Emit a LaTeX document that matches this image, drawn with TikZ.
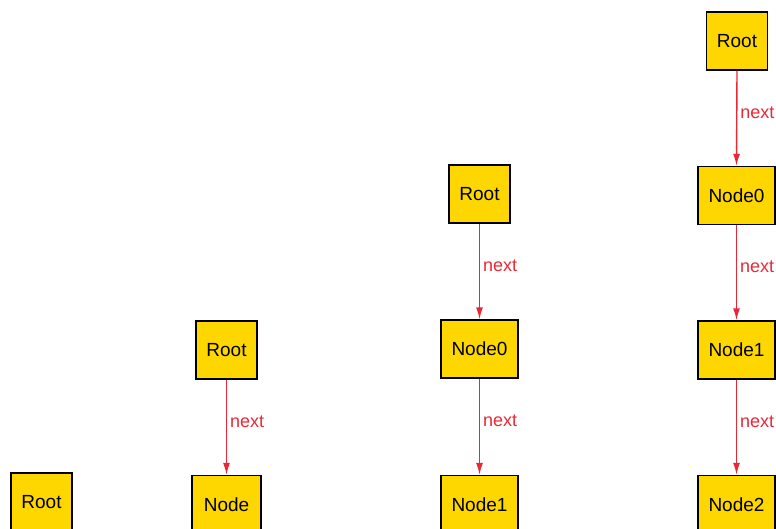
\documentclass[tikz,border=0pt]{standalone}
\usepackage{fontspec}
\setmainfont{Liberation Sans}
\usetikzlibrary{arrows.meta}
\definecolor{boxfill}{RGB}{255,215,0}
\definecolor{edgered}{RGB}{232,40,52}
\tikzset{
  listbox/.style={draw=black, line width=1.4pt, fill=boxfill, inner sep=0pt,
    minimum height=58pt, font=\fontsize{19}{21}\selectfont, text=black},
  rootbox/.style={listbox, minimum width=61pt},
  nodebox/.style={listbox, minimum width=69pt},
  numbox/.style={listbox, minimum width=77pt},
  nextedge/.style={draw=edgered, line width=1.4pt, -{Latex[length=12pt,width=7pt]}},
  nextlabel/.style={text=edgered, font=\fontsize{18}{20}\selectfont, inner sep=0pt, anchor=base west, xshift=3pt}
}
\begin{document}
\begin{tikzpicture}[x=1pt,y=1pt]
\useasboundingbox (0,0) rectangle (776,528);
\clip (0,0) rectangle (776,528);
% group 1
\node[rootbox] (r1) at (41.5,26) {Root};
% group 2
\node[rootbox] (r2) at (226.5,178) {Root};
\node[nodebox] (n2) at (226.5,23.5) {Node};
\draw[nextedge] (r2.south) -- node[nextlabel]{next} (n2.north);
% group 3
\node[rootbox] (r3) at (479.5,334) {Root};
\node[numbox] (a3) at (479.5,179) {Node0};
\node[numbox] (b3) at (479.5,23.5) {Node1};
\draw[nextedge] (r3.south) -- node[nextlabel]{next} (a3.north);
\draw[nextedge] (a3.south) -- node[nextlabel]{next} (b3.north);
% group 4
\node[rootbox] (r4) at (737,487) {Root};
\node[numbox] (a4) at (736.5,332.5) {Node0};
\node[numbox] (b4) at (736.5,178) {Node1};
\node[numbox] (c4) at (736.5,23.5) {Node2};
\draw[nextedge] (r4.south) -- node[nextlabel]{next} (a4.north);
\draw[nextedge] (a4.south) -- node[nextlabel]{next} (b4.north);
\draw[nextedge] (b4.south) -- node[nextlabel]{next} (c4.north);
\end{tikzpicture}
\end{document}
